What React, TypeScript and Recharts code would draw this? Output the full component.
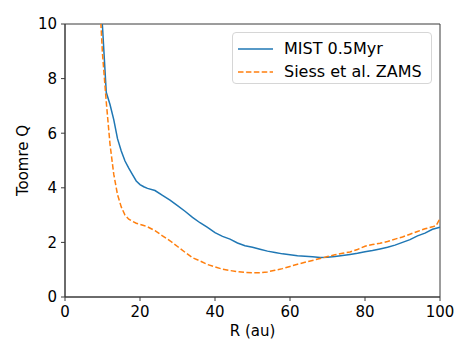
import React from 'react'
import {
    LineChart, Line, XAxis, YAxis, Legend, ReferenceArea
} from 'recharts'

// radius grid (au) and Toomre Q for each model
const RADIUS = [
    9, 10, 11, 12, 13, 14, 15, 16, 17, 18, 19, 20, 21, 22, 24, 26, 28, 30, 32, 34,
    36, 38, 40, 42, 44, 46, 48, 50, 52, 54, 56, 58, 60, 62, 64, 66, 68, 70, 72, 74,
    76, 78, 80, 82, 84, 86, 88, 90, 92, 94, 96, 98, 99, 100
]
const MIST_Q = [
    11.5, 9.9, 7.5, 7.05, 6.5, 5.8, 5.35, 4.98, 4.72, 4.48, 4.25, 4.12, 4.04, 3.98, 3.9, 3.72, 3.55, 3.35, 3.14, 2.92,
    2.72, 2.55, 2.36, 2.22, 2.12, 1.98, 1.88, 1.82, 1.75, 1.68, 1.63, 1.58, 1.55, 1.51, 1.49, 1.47, 1.45, 1.46, 1.48, 1.52,
    1.56, 1.6, 1.66, 1.7, 1.76, 1.82, 1.9, 2.0, 2.1, 2.24, 2.34, 2.48, 2.52, 2.56
]
const SIESS_Q = [
    11.5, 8.9, 7.15, 5.6, 4.5, 3.75, 3.3, 3.0, 2.85, 2.77, 2.7, 2.66, 2.62, 2.57, 2.43, 2.24, 2.06, 1.85, 1.64, 1.44,
    1.32, 1.19, 1.1, 1.02, 0.97, 0.93, 0.9, 0.89, 0.89, 0.92, 0.98, 1.04, 1.12, 1.2, 1.27, 1.34, 1.41, 1.48, 1.55, 1.6,
    1.65, 1.74, 1.86, 1.92, 1.97, 2.03, 2.12, 2.2, 2.3, 2.4, 2.5, 2.57, 2.62, 2.88
]
const X_TICKS = [0, 20, 40, 60, 80, 100]
const Y_TICKS = [0, 2, 4, 6, 8, 10]

const SERIES = [
    { key: 'mist', name: 'MIST 0.5Myr', color: '#1f77b4', dash: undefined },
    { key: 'siess', name: 'Siess et al. ZAMS', color: '#ff7f0e', dash: '5.5 2.4' }
]

const data = RADIUS.map((r, i) => ({ r, mist: MIST_Q[i], siess: SIESS_Q[i] }))

const FONT = '"DejaVu Sans", sans-serif'
const AXIS = '#3a3a3a'

function LegendBox() {
    return (
        <div
            style={{
                border: '1px solid #d6d6d6',
                borderRadius: 4,
                background: 'rgba(255,255,255,0.8)',
                padding: '4px 0 5px 5px',
                fontFamily: FONT,
                fontSize: 16,
                color: '#000',
                boxSizing: 'border-box',
                width: 200,
                height: 52
            }}
        >
            {SERIES.map(s => (
                <div key={s.key} style={{ display: 'flex', alignItems: 'center', height: 23 }}>
                    <svg width={36} height={10} style={{ marginRight: 10 }}>
                        <line
                            x1={0} y1={5} x2={35} y2={5}
                            stroke={s.color}
                            strokeWidth={1.5}
                            strokeDasharray={s.dash}
                        />
                    </svg>
                    <span>{s.name}</span>
                </div>
            ))}
        </div>
    )
}

function YTitle({ viewBox }: any) {
    const cy = viewBox.y + viewBox.height / 2
    return (
        <text
            x={28} y={cy}
            transform={`rotate(-90 28 ${cy})`}
            textAnchor="middle"
            fontFamily={FONT}
            fontSize={15}
            fill="#000"
        >
            Toomre Q
        </text>
    )
}

export default function App() {
    return (
        <div style={{ position: 'absolute', left: 0, top: 0, background: '#fff' }}>
            <LineChart
                width={474}
                height={356}
                data={data}
                margin={{ top: 24, right: 34, bottom: 0, left: 0 }}
            >
                <XAxis
                    dataKey="r"
                    type="number"
                    domain={[0, 100]}
                    ticks={X_TICKS}
                    allowDataOverflow
                    height={59}
                    tickSize={4}
                    tickMargin={5}
                    stroke={AXIS}
                    tick={{ fontSize: 15, fill: '#000', fontFamily: FONT }}
                    label={{
                        value: 'R (au)',
                        position: 'insideBottom',
                        offset: 20,
                        fontSize: 15,
                        fill: '#000',
                        fontFamily: FONT
                    }}
                />
                <YAxis
                    type="number"
                    domain={[0, 10]}
                    ticks={Y_TICKS}
                    allowDataOverflow
                    width={65}
                    tickSize={4}
                    tickMargin={4}
                    stroke={AXIS}
                    tick={{ fontSize: 15, fill: '#000', fontFamily: FONT }}
                    label={<YTitle />}
                />
                <ReferenceArea
                    x1={0} x2={100} y1={0} y2={10}
                    fill="none"
                    stroke={AXIS}
                    strokeWidth={1}
                />
                {SERIES.map(s => (
                    <Line
                        key={s.key}
                        dataKey={s.key}
                        name={s.name}
                        type="linear"
                        stroke={s.color}
                        strokeWidth={1.5}
                        strokeDasharray={s.dash}
                        dot={false}
                        activeDot={false}
                        isAnimationActive={false}
                    />
                ))}
                <Legend
                    layout="vertical"
                    align="center"
                    verticalAlign="middle"
                    content={<LegendBox />}
                    wrapperStyle={{ position: 'absolute', left: 232, top: 32, width: 200, height: 52 }}
                />
            </LineChart>
        </div>
    )
}
